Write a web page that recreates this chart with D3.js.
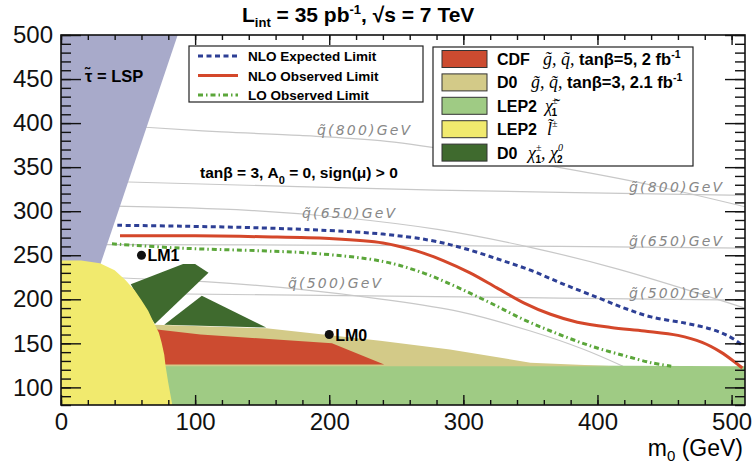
<!DOCTYPE html>
<html>
<head>
<meta charset="utf-8">
<script src="https://cdn.jsdelivr.net/npm/d3@7"></script>
<style>
  body { margin: 0; background: #fff; }
  svg { display: block; font-family: "Liberation Sans", Arial, sans-serif; }
</style>
</head>
<body>
<div id="chart"></div>
<script>
// all points are (m0, m1/2) in GeV
const nloExpected = [[42,284],[90,283],[150,281],[200,278],[240,274],[275,267],[300,258],[325,246],[350,233],[375,217],[400,202],[420,190],[440,180],[465,173],[485,166],[498,158],[508,148]];
const nloObserved = [[44,272],[100,272],[150,271],[200,269],[240,264],[265,255],[285,244],[305,230],[325,213],[345,196],[365,183],[385,174],[410,168],[435,164],[460,159],[478,151],[492,140],[503,128],[508,122]];
const loObserved = [[38,263],[90,258],[150,255],[190,252],[240,243],[270,230],[295,214],[320,196],[345,177],[370,161],[395,147],[420,136],[440,128],[455,124]];

// iso-mass contours
const squark800 = [[30,398],[66,395],[120,390],[178,386],[238,380],[305,366],[370,350],[439,330],[510,305]];
const squark650 = [[30,306],[140,301],[215,292],[282,279],[350,259],[416,234],[510,190]];
const squark500 = [[30,225],[107,220],[180,211],[240,200],[297,186],[350,164],[390,143],[419,124]];
const gluino800 = [[30,334],[280,324],[510,318]];
const gluino650 = [[30,262],[280,261],[510,258]];
const gluino500 = [[30,207],[280,203],[510,199]];

// excluded regions
const stauLSP = [[0,500],[87,500],[29,238],[0,238]];
const lep2Chargino = [[70,127],[300,125.5],[510,124],[510,80],[70,80]];
const d0Squark = [[70,171],[153,167],[238,153],[290,143],[350,128],[413,124],[70,124]];
const cdfSquark = [[70,166],[104,160],[202,150],[241,126],[70,126]];
const d0GauginoA = [[52,217],[91,240],[100,240],[110,230],[70,172],[62,190]];
const d0GauginoB = [[77,171],[105,204],[153,168]];
const lep2Slepton = [[0,244],[15,244],[29,241],[40,233],[48,222],[55,210],[60,199],[65,187],[69,174],[73,162],[75,151],[77,137],[78,124],[80,105],[83,80],[0,80]];

const benchmarks = [{name: "LM1", m0: 60, m12: 250}, {name: "LM0", m0: 200, m12: 160}];

const xTicks = [0, 100, 200, 300, 400, 500];
const yTicks = [100, 150, 200, 250, 300, 350, 400, 450, 500];

const margin = {top: 35, right: 10, bottom: 58, left: 61},
      width = 755 - margin.left - margin.right,
      height = 463 - margin.top - margin.bottom;

const svg = d3.select("#chart").append("svg")
    .attr("width", 755).attr("height", 463);
const g = svg.append("g").attr("transform", `translate(${margin.left},${margin.top})`);

const x = d3.scaleLinear().domain([0, 510]).range([0, width]);
const y = d3.scaleLinear().domain([80, 500]).range([height, 0]);

svg.append("defs").append("clipPath").attr("id", "plot")
  .append("rect").attr("width", width).attr("height", height);

const plot = g.append("g").attr("clip-path", "url(#plot)");
const line = d3.line().x(d => x(d[0])).y(d => y(d[1]));
const smooth = d3.line().x(d => x(d[0])).y(d => y(d[1])).curve(d3.curveCatmullRom.alpha(0.5));

// grey mass contours
[squark800, squark650, squark500, gluino800, gluino650, gluino500].forEach(c => {
  plot.append("path").attr("d", smooth(c))
    .attr("fill", "none").attr("stroke", "#c8c8c8").attr("stroke-width", 1.2);
});

// regions
const regions = [
  [stauLSP, "#a8aaca"],
  [lep2Chargino, "#9fcb84"],
  [d0Squark, "#d3ca88"],
  [cdfSquark, "#cc4b30"],
  [d0GauginoA, "#3f6a2e"],
  [d0GauginoB, "#3f6a2e"],
  [lep2Slepton, "#f1ea6e"]
];
regions.forEach(([pts, col]) => {
  plot.append("path").attr("d", line(pts) + "Z").attr("fill", col).attr("stroke", "none");
});

// limit curves
plot.append("path").attr("d", smooth(loObserved)).attr("fill", "none")
  .attr("stroke", "#5ba63a").attr("stroke-width", 3).attr("stroke-dasharray", "5,3,1.5,3");
plot.append("path").attr("d", smooth(nloObserved)).attr("fill", "none")
  .attr("stroke", "#d4472a").attr("stroke-width", 3);
plot.append("path").attr("d", smooth(nloExpected)).attr("fill", "none")
  .attr("stroke", "#2d3f95").attr("stroke-width", 3).attr("stroke-dasharray", "5,3.5");

// benchmark points
benchmarks.forEach(b => {
  g.append("circle").attr("cx", x(b.m0)).attr("cy", y(b.m12)).attr("r", 4.5).attr("fill", "#111");
  g.append("text").attr("x", x(b.m0) + 6).attr("y", y(b.m12) + 6)
    .attr("font-size", 16).attr("font-weight", "bold").text(b.name);
});

// contour labels
const greyLabels = [
  ["q", "800", 256, 100], ["q", "650", 241, 183], ["q", "500", 227, 253],
  ["g", "800", 568, 157], ["g", "650", 568, 211], ["g", "500", 568, 263]
];
greyLabels.forEach(([p, m, lx, ly]) => {
  g.append("text").attr("x", lx).attr("y", ly)
    .attr("font-family", "DejaVu Sans").attr("font-style", "italic")
    .attr("font-size", 14).attr("letter-spacing", 2.2).attr("fill", "#888")
    .text(`${p}\u0303(${m})GeV`);
});

// annotations
g.append("text").attr("x", 24).attr("y", 47).attr("font-size", 16.5).attr("font-weight", "bold")
  .text("\u03c4\u0303 = LSP");
const tb = g.append("text").attr("x", 139).attr("y", 143).attr("font-size", 15.5).attr("font-weight", "bold");
tb.append("tspan").text("tan\u03b2 = 3, A");
tb.append("tspan").attr("font-size", 11).attr("dy", 6).text("0");
tb.append("tspan").attr("dy", -6).text(" = 0, sign(\u03bc) > 0");

// axes
const ax = (axis) => axis.tickFormat("");
g.append("g").attr("transform", `translate(0,${height})`)
  .call(d3.axisBottom(x).tickValues(xTicks).tickSize(-10).tickPadding(8).tickFormat(d3.format("d")))
  .call(a => a.selectAll("text").attr("font-size", 24).attr("fill", "#111").attr("dy", "0.72em"));
g.append("g").attr("transform", `translate(0,${height})`)
  .call(ax(d3.axisBottom(x).tickValues(d3.range(0, 510, 20)).tickSize(-5)));
g.append("g").call(ax(d3.axisTop(x).tickValues(xTicks).tickSize(-10)));
g.append("g").call(ax(d3.axisTop(x).tickValues(d3.range(0, 510, 20)).tickSize(-5)));

g.append("g")
  .call(d3.axisLeft(y).tickValues(yTicks).tickSize(-20).tickPadding(8).tickFormat(d3.format("d")))
  .call(a => a.selectAll("text").attr("font-size", 24).attr("fill", "#111"));
g.append("g").call(ax(d3.axisLeft(y).tickValues(d3.range(80, 501, 10)).tickSize(-10)));
g.append("g").attr("transform", `translate(${width},0)`)
  .call(ax(d3.axisRight(y).tickValues(yTicks).tickSize(-20)));
g.append("g").attr("transform", `translate(${width},0)`)
  .call(ax(d3.axisRight(y).tickValues(d3.range(80, 501, 10)).tickSize(-10)));

g.selectAll(".domain").remove();
g.selectAll(".tick line").attr("stroke", "#111").attr("stroke-width", 1.4);

g.append("rect").attr("width", width).attr("height", height)
  .attr("fill", "none").attr("stroke", "#111").attr("stroke-width", 1.6);

// x axis title
const xt = svg.append("text").attr("x", 743).attr("y", 456).attr("text-anchor", "end").attr("font-size", 23);
xt.append("tspan").text("m");
xt.append("tspan").attr("font-size", 15).attr("dy", 5).text("0");
xt.append("tspan").attr("dy", -5).text(" (GeV)");

// title
const tt = svg.append("text").attr("x", 242).attr("y", 22).attr("font-size", 21).attr("font-weight", "bold");
tt.append("tspan").text("L");
tt.append("tspan").attr("font-size", 13).attr("dy", 5).text("int");
tt.append("tspan").attr("dy", -5).text(" = 35 pb");
tt.append("tspan").attr("font-size", 13).attr("dy", -8).text("-1");
tt.append("tspan").attr("dy", 8).text(", \u221as = 7 TeV");

// legend for limit curves
const leg1 = [
  ["NLO Expected Limit", "#2d3f95", "5,3.5"],
  ["NLO Observed Limit", "#d4472a", null],
  ["LO Observed Limit", "#5ba63a", "5,3,1.5,3"]
];
svg.append("rect").attr("x", 189).attr("y", 46).attr("width", 234).attr("height", 56)
  .attr("fill", "#fff").attr("stroke", "#222").attr("stroke-width", 1.2);
leg1.forEach(([name, col, dash], i) => {
  const yy = 56 + i * 19.5;
  svg.append("line").attr("x1", 198).attr("x2", 238).attr("y1", yy).attr("y2", yy)
    .attr("stroke", col).attr("stroke-width", 3).attr("stroke-dasharray", dash);
  svg.append("text").attr("x", 248).attr("y", yy + 5).attr("font-size", 13.5)
    .attr("font-weight", "bold").text(name);
});

// legend for excluded regions
const leg2Names = ["CDF", "D0", "LEP2", "LEP2", "D0"];
const leg2Colors = ["#cc4b30", "#d3ca88", "#9fcb84", "#f1ea6e", "#3f6a2e"];
svg.append("rect").attr("x", 433).attr("y", 47).attr("width", 260).attr("height", 119)
  .attr("fill", "#fff").attr("stroke", "#222").attr("stroke-width", 1.2);
leg2Names.forEach((name, i) => {
  const yy = 59 + i * 23.4;
  svg.append("rect").attr("x", 442).attr("y", yy - 8.5).attr("width", 45).attr("height", 17)
    .attr("fill", leg2Colors[i]).attr("stroke", "#333").attr("stroke-width", 1);
  svg.append("text").attr("x", 497).attr("y", yy + 6).attr("font-size", 16)
    .attr("font-weight", "bold").text(name);
});
const serif = t => t.attr("font-family", "Liberation Serif").attr("font-style", "italic").attr("font-weight", "normal");
function detail(row, build) {
  const t = svg.append("text").attr("y", 59 + row * 23.4 + 6).attr("font-size", 16.5).attr("font-weight", "bold");
  build(t);
}
detail(0, t => {
  t.attr("x", 543);
  serif(t.append("tspan")).attr("font-size", 18).text("g\u0303, q\u0303, ");
  t.append("tspan").text("tan\u03b2=5, 2 fb");
  t.append("tspan").attr("font-size", 10.5).attr("dy", -7).text("-1");
});
detail(1, t => {
  t.attr("x", 531);
  serif(t.append("tspan")).attr("font-size", 18).text("g\u0303, q\u0303, ");
  t.append("tspan").text("tan\u03b2=3, 2.1 fb");
  t.append("tspan").attr("font-size", 10.5).attr("dy", -7).text("-1");
});
detail(2, t => {
  t.attr("x", 545);
  serif(t.append("tspan")).attr("font-size", 18).text("\u03c7\u0303");
  serif(t.append("tspan")).attr("font-size", 10).attr("dx", -1).attr("dy", -8).text("\u00b1");
  t.append("tspan").attr("font-size", 10).attr("dx", -6).attr("dy", 12).text("1");
});
detail(3, t => {
  t.attr("x", 547);
  serif(t.append("tspan")).attr("font-size", 18).text("l\u0303");
  serif(t.append("tspan")).attr("font-size", 10).attr("dy", -8).text("\u00b1");
});
detail(4, t => {
  t.attr("x", 528);
  serif(t.append("tspan")).attr("font-size", 18).text("\u03c7");
  serif(t.append("tspan")).attr("font-size", 10).attr("dy", -8).text("\u00b1");
  t.append("tspan").attr("font-size", 10).attr("dx", -6).attr("dy", 12).text("1");
  serif(t.append("tspan")).attr("font-size", 18).attr("dy", -4).text(", \u03c7");
  serif(t.append("tspan")).attr("font-size", 10).attr("dy", -8).text("0");
  t.append("tspan").attr("font-size", 10).attr("dx", -6).attr("dy", 12).text("2");
});
</script>
</body>
</html>
